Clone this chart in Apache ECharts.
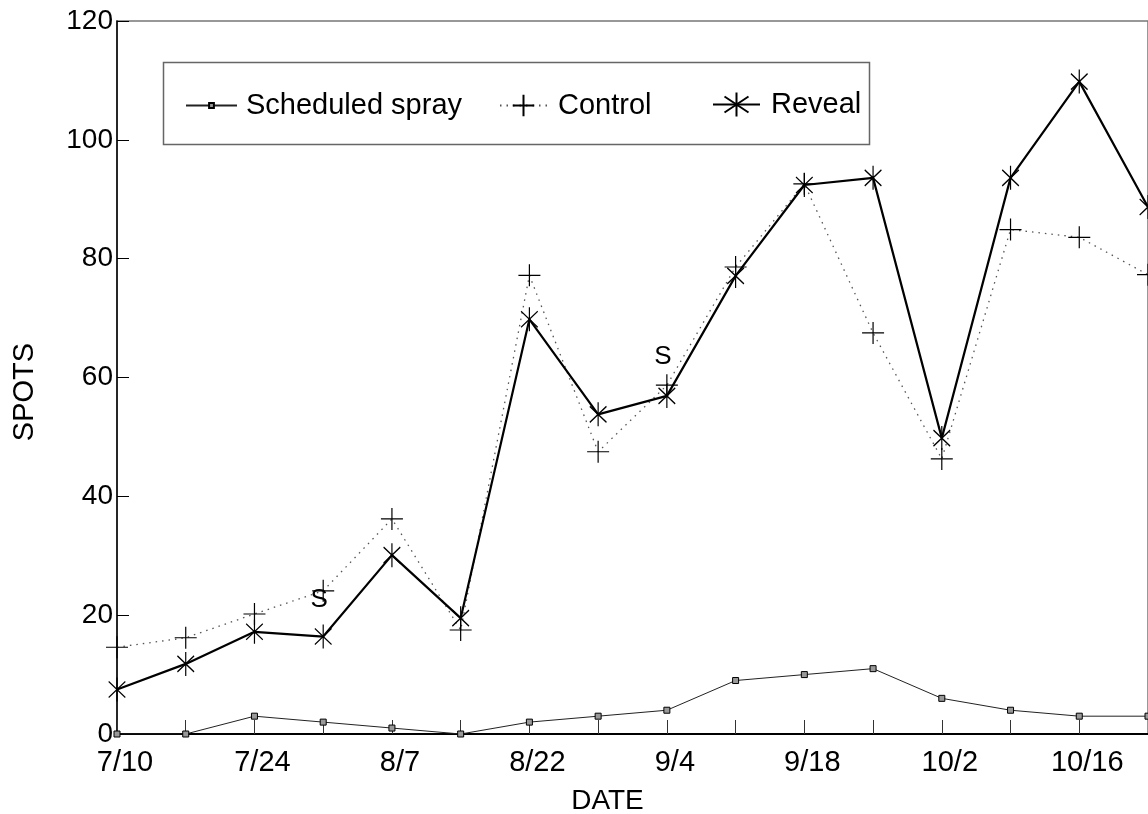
<!DOCTYPE html>
<html>
<head>
<meta charset="utf-8">
<script src="https://cdn.jsdelivr.net/npm/echarts@6/dist/echarts.min.js"></script>
<style>html,body{margin:0;padding:0;background:#fff}#c{width:1148px;height:814px}</style>
</head>
<body>
<div id="c"></div>
<script>
// ---- data ----
var dates = ['7/10','7/17','7/24','7/31','8/7','8/14','8/22','8/29','9/4','9/11','9/18','9/25','10/2','10/9','10/16','10/23'];
var scheduledSpray = [0, 0, 3, 2, 1, 0, 2, 3, 4, 9, 10, 11, 6, 4, 3, 3];
var control = [14.6, 16.2, 20.2, 24.1, 36.2, 17.5, 77.2, 47.5, 58.7, 78.6, 92.6, 67.5, 46.3, 84.9, 83.6, 77.3];
var reveal = [7.5, 11.8, 17.2, 16.4, 30.1, 19.5, 69.8, 53.8, 56.9, 77.1, 92.4, 93.6, 49.8, 93.6, 109.8, 88.7];
var sprayMarks = [['7/31', 22.5], ['9/4', 63.4]];
var sprayMarkText = 'S';
var yTicks = {min: 0, max: 120, interval: 20};

var FONT = '"Liberation Sans", Arial, Helvetica, sans-serif';
var plusPath = 'path://M0,-11L0,11M-11,0L11,0';
var starPath = 'path://M0,-12L0,12M-10,-8L10,8M-10,8L10,-8';

var chart = echarts.init(document.getElementById('c'));
chart.setOption({
  animation: false,
  backgroundColor: '#fff',
  textStyle: {fontFamily: FONT},
  grid: {left: 117, right: -4, top: 21, bottom: 80, show: true, borderColor: '#777', borderWidth: 1.5, backgroundColor: 'transparent'},
  legend: [
    {data: ['Scheduled spray'], left: 185, top: 91, padding: 0, itemWidth: 51, itemHeight: 6,
     textStyle: {fontSize: 29, color: '#000', fontFamily: FONT, padding: [0,0,0,4]}},
    {data: ['Control'], left: 499, top: 91, padding: 0, itemWidth: 47, itemHeight: 27,
     textStyle: {fontSize: 29, color: '#000', fontFamily: FONT, padding: [0,0,0,6]}},
    {data: ['Reveal'], left: 712, top: 90, padding: 0, itemWidth: 47, itemHeight: 30,
     textStyle: {fontSize: 29, color: '#000', fontFamily: FONT, padding: [0,0,0,6]}}
  ],
  xAxis: {
    type: 'category', data: dates, boundaryGap: false,
    axisLine: {lineStyle: {color: '#000', width: 2}},
    axisTick: {inside: true, length: 14, interval: 0, lineStyle: {color: '#333', width: 1}},
    axisLabel: {interval: 1, fontSize: 29, color: '#000', fontFamily: FONT, margin: 14, padding: [0,0,0,16]},
    splitLine: {show: false}
  },
  yAxis: {
    type: 'value', min: yTicks.min, max: yTicks.max, interval: yTicks.interval,
    axisLine: {show: true, lineStyle: {color: '#000', width: 1.5}},
    axisTick: {show: true, inside: true, length: 12, lineStyle: {color: '#000', width: 1}},
    axisLabel: {fontSize: 28, color: '#000', fontFamily: FONT, margin: 4},
    splitLine: {show: false}
  },
  graphic: [
    {type: 'rect', shape: {x: 163.5, y: 62.5, width: 706, height: 82}, style: {fill: 'none', stroke: '#666', lineWidth: 1.5}, z: 100},
    {type: 'text', x: 24.7, y: 392, rotation: Math.PI / 2,
     style: {text: 'SPOTS', fontSize: 29, fontFamily: FONT, fill: '#000', textAlign: 'center', textVerticalAlign: 'middle'}},
    {type: 'text', x: 607.5, y: 801,
     style: {text: 'DATE', fontSize: 28, fontFamily: FONT, fill: '#000', textAlign: 'center', textVerticalAlign: 'middle'}}
  ],
  series: [
    {name: 'Scheduled spray', type: 'line', data: scheduledSpray, symbol: 'rect', symbolSize: 6,
     lineStyle: {color: '#222', width: 1}, itemStyle: {color: '#999', borderColor: '#000', borderWidth: 1}, z: 3},
    {name: 'Control', type: 'line', data: control, symbol: plusPath, symbolSize: 22, symbolKeepAspect: true,
     lineStyle: {color: '#555', width: 1.3, type: [1.5, 5]}, itemStyle: {color: 'none', borderColor: '#000', borderWidth: 1.2}, z: 4},
    {name: 'Reveal', type: 'line', data: reveal, symbol: starPath, symbolSize: [20, 24], symbolKeepAspect: true,
     lineStyle: {color: '#000', width: 2.2}, itemStyle: {color: 'none', borderColor: '#000', borderWidth: 1.3}, z: 5},
    {name: 'marks', type: 'scatter', data: sprayMarks, symbolSize: 0, silent: true,
     itemStyle: {opacity: 1, color: '#000'},
     label: {show: true, position: 'inside', formatter: function(){return sprayMarkText;}, fontSize: 26, color: '#000',
       textBorderWidth: 0, fontFamily: FONT, offset: [-4, 0]}, z: 6}
  ]
});
</script>
</body>
</html>
